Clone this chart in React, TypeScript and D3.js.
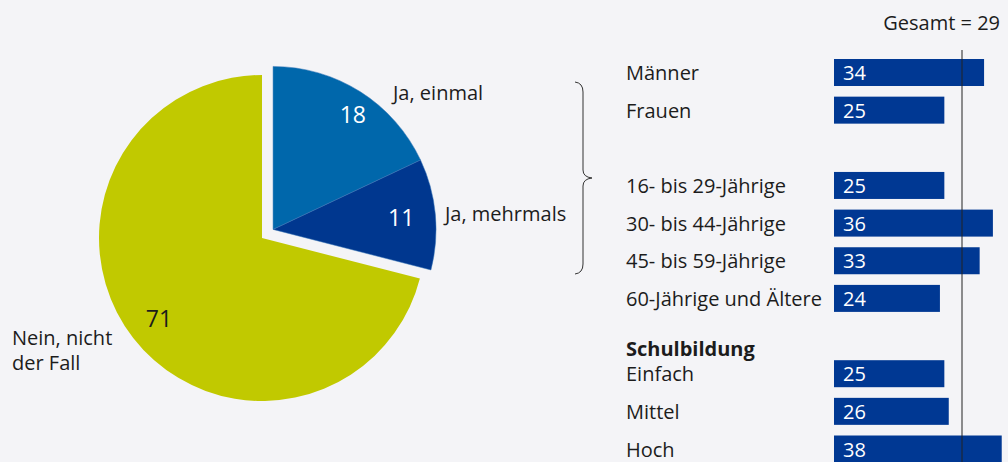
import * as d3 from "d3";

const W = 1008;
const H = 462;

const pieLabels = ["Ja, einmal", "Ja, mehrmals", "Nein, nicht der Fall"];
const pieValues = [18, 11, 71];
const pieColors = ["#0067ab", "#00378f", "#c1c900"];

const barCategories = [
  "Männer",
  "Frauen",
  "",
  "16- bis 29-Jährige",
  "30- bis 44-Jährige",
  "45- bis 59-Jährige",
  "60-Jährige und Ältere",
  "Schulbildung",
  "Einfach",
  "Mittel",
  "Hoch",
];
const barValues = [34, 25, null, 25, 36, 33, 24, null, 25, 26, 38];
const totalValue = 29;

const FONT = "'Open Sans', sans-serif";
const TEXT = "#1c1c1c";
const BG = "#f4f4f7";

// pie geometry
const CX = 262;
const CY = 238;
const R = 163;
const EXPLODE = 14;

// label tweaks per slice: [angle shift (rad), radius factor]
const LABEL_TWEAK = [
  [0.04, 0.86],
  [0, 0.79],
  [0, 0.8],
];

export default function App() {
  const arcs = d3
    .pie<number>()
    .sort(null)
    .value((d) => d)(pieValues);

  const arcGen = d3.arc<d3.PieArcDatum<number>>().innerRadius(0).outerRadius(R);

  // the "yes" slices are pulled out together along their common mid angle
  const yesMid = (arcs[0].startAngle + arcs[1].endAngle) / 2;
  const dx = Math.sin(yesMid) * EXPLODE;
  const dy = -Math.cos(yesMid) * EXPLODE;

  const y = d3
    .scalePoint()
    .domain(barCategories.map((_, i) => String(i)))
    .range([72.5, 449]);
  const x = d3.scaleLinear().domain([0, totalValue]).range([834, 962]);
  const barH = 27;

  return (
    <svg
      width={W}
      height={H}
      style={{ position: "absolute", left: 0, top: 0, fontFamily: FONT }}
    >
      <rect width={W} height={H} fill={BG} />

      {arcs.map((a, i) => {
        const off = i < 2 ? [dx, dy] : [0, 0];
        const mid = (a.startAngle + a.endAngle) / 2 + LABEL_TWEAK[i][0];
        const lr = R * LABEL_TWEAK[i][1];
        return (
          <g key={i} transform={`translate(${CX + off[0]},${CY + off[1]})`}>
            <path
              d={arcGen(a) ?? ""}
              fill={pieColors[i]}
              stroke={i < 2 ? "#3a78b8" : "none"}
              strokeWidth={0.5}
            />
            <text
              x={Math.sin(mid) * lr}
              y={-Math.cos(mid) * lr}
              textAnchor="middle"
              dominantBaseline="central"
              fontSize={23}
              fill={i < 2 ? "#ffffff" : TEXT}
            >
              {a.data}
            </text>
          </g>
        );
      })}

      <text x={393} y={92} dominantBaseline="central" fontSize={20} fill={TEXT}>
        {pieLabels[0]}
      </text>
      <text x={445} y={213} dominantBaseline="central" fontSize={20} fill={TEXT}>
        {pieLabels[1]}
      </text>
      <text x={12} fontSize={20} fill={TEXT}>
        <tspan x={12} y={345}>Nein, nicht</tspan>
        <tspan x={12} y={370}>der Fall</tspan>
      </text>

      {/* brace */}
      <path
        d="M575,82 Q583,83 583,92 L583,170 Q583,177 592,178 Q583,179 583,186 L583,264 Q583,273 575,274"
        fill="none"
        stroke="#333"
        strokeWidth={1}
      />

      {/* bars */}
      {barCategories.map((c, i) => {
        const v = barValues[i];
        const cy = y(String(i)) ?? 0;
        if (v === null) {
          if (!c) return null;
          return (
            <text
              key={i}
              x={626}
              y={cy + 12}
              dominantBaseline="central"
              fontSize={20}
              fontWeight="bold"
              fill={TEXT}
            >
              {c}
            </text>
          );
        }
        return (
          <g key={i}>
            <text x={626} y={cy} dominantBaseline="central" fontSize={20} fill={TEXT}>
              {c}
            </text>
            <rect
              x={x(0)}
              y={cy - barH / 2}
              width={x(v) - x(0)}
              height={barH}
              fill="#003893"
            />
            <text
              x={x(0) + 9}
              y={cy}
              dominantBaseline="central"
              fontSize={20}
              fill="#ffffff"
            >
              {v}
            </text>
          </g>
        );
      })}

      <line x1={x(totalValue)} x2={x(totalValue)} y1={50} y2={H} stroke="#222" strokeWidth={1} />
      <text x={1000} y={22} textAnchor="end" dominantBaseline="central" fontSize={20} fill={TEXT}>
        Gesamt = {totalValue}
      </text>
    </svg>
  );
}
